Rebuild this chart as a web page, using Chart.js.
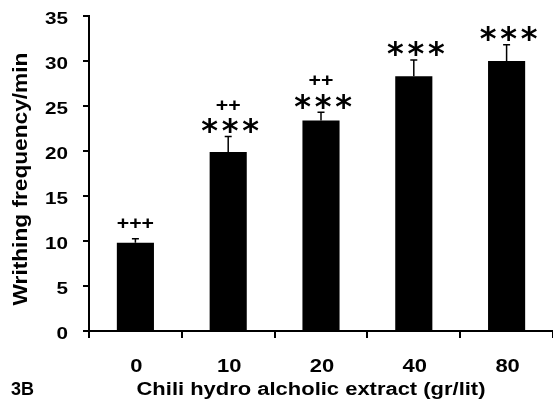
<!DOCTYPE html>
<html>
<head>
<meta charset="utf-8">
<script src="https://cdn.jsdelivr.net/npm/chart.js@4"></script>
<style>
  html, body { margin: 0; padding: 0; background: #fff; }
  canvas { display: block; }
</style>
</head>
<body>
<canvas id="myChart" width="553" height="404"></canvas>
<script>
// Data
const doses = ['0', '10', '20', '40', '80'];
const writhingMeans = [9.8, 19.9, 23.4, 28.3, 30.0];
const writhingSem = [0.45, 1.7, 0.9, 1.8, 1.8];
const plusMarks = ['+++', '++', '++', '', ''];
const starMarks = [0, 3, 3, 3, 3];
const yTickValues = [0, 5, 10, 15, 20, 25, 30, 35];

const xTitle = 'Chili hydro alcholic extract (gr/lit)';
const yTitle = 'Writhing frequency/min';
const panelLabel = '3B';

const ARIAL = '"Liberation Sans", Arial, sans-serif';

// draws text squeezed/stretched horizontally like the original figure
function stretchedText(ctx, text, x, y, font, sx, align) {
    ctx.save();
    ctx.translate(x, y);
    ctx.scale(sx, 1);
    ctx.font = font;
    ctx.textAlign = align;
    ctx.textBaseline = 'alphabetic';
    ctx.fillStyle = '#000';
    ctx.fillText(text, 0, 0);
    ctx.restore();
}

// error bars (upper only) + significance marks
const errorBarPlugin = {
    id: 'errorBars',
    afterDatasetsDraw(chart) {
        const ctx = chart.ctx;
        const meta = chart.getDatasetMeta(0);
        const yScale = chart.scales.y;
        ctx.save();
        meta.data.forEach((bar, i) => {
            const x = bar.x;
            const yTop = yScale.getPixelForValue(writhingMeans[i]);
            const yErr = yScale.getPixelForValue(writhingMeans[i] + writhingSem[i]);
            ctx.strokeStyle = '#000';
            ctx.lineWidth = 1.5;
            ctx.beginPath();
            ctx.moveTo(x, yTop);
            ctx.lineTo(x, yErr);
            ctx.moveTo(x - 3.5, yErr);
            ctx.lineTo(x + 3.5, yErr);
            ctx.stroke();

            // asterisks
            let plusCenter = yErr - 16;
            if (starMarks[i] > 0) {
                const starCenter = yErr - 14;
                const f = 32;
                ctx.font = 'bold ' + f + 'px "DejaVu Sans", sans-serif';
                ctx.textAlign = 'center';
                ctx.textBaseline = 'alphabetic';
                ctx.fillStyle = '#000';
                for (let k = 0; k < starMarks[i]; k++) {
                    const off = (k - (starMarks[i] - 1) / 2) * 20.5;
                    ctx.fillText('*', x + 2 + off, starCenter + 0.57 * f);
                }
                plusCenter = starCenter - 18;
            }
            if (plusMarks[i]) {
                stretchedText(ctx, plusMarks[i], x, plusCenter + 6,
                    'bold 19px ' + ARIAL, 1.12, 'center');
            }
        });
        ctx.restore();
    }
};

// tick labels and axis titles
const labelsPlugin = {
    id: 'figureLabels',
    afterDraw(chart) {
        const ctx = chart.ctx;
        const xScale = chart.scales.x;
        const yScale = chart.scales.y;

        yTickValues.forEach(v => {
            const y = yScale.getPixelForValue(v);
            stretchedText(ctx, String(v), 68, y + 8, 'bold 16px ' + ARIAL, 1.29, 'right');
        });

        doses.forEach((d, i) => {
            const x = xScale.getPixelForValue(i);
            stretchedText(ctx, d, x + 1, 372, 'bold 18px ' + ARIAL, 1.22, 'center');
        });

        stretchedText(ctx, xTitle, 311, 395, 'bold 18px ' + ARIAL, 1.22, 'center');
        stretchedText(ctx, panelLabel, 11, 395, 'bold 18px ' + ARIAL, 1.0, 'left');

        // rotated y axis title
        ctx.save();
        ctx.translate(27, 179);
        ctx.rotate(-Math.PI / 2);
        ctx.scale(1.08, 1);
        ctx.font = 'bold 21px ' + ARIAL;
        ctx.textAlign = 'center';
        ctx.textBaseline = 'alphabetic';
        ctx.fillStyle = '#000';
        ctx.fillText(yTitle, 0, 0);
        ctx.restore();
    }
};

const ctx = document.getElementById('myChart').getContext('2d');

const myChart = new Chart(ctx, {
    type: 'bar',
    data: {
        labels: doses,
        datasets: [{
            data: writhingMeans,
            backgroundColor: '#000',
            borderWidth: 0,
            barPercentage: 0.4,
            categoryPercentage: 1.0
        }]
    },
    options: {
        responsive: false,
        animation: false,
        layout: {
            padding: { top: 16, left: 0, right: 0, bottom: 0 }
        },
        plugins: {
            legend: { display: false },
            tooltip: { enabled: false }
        },
        scales: {
            x: {
                offset: true,
                grid: {
                    offset: true,
                    drawOnChartArea: false,
                    drawTicks: true,
                    tickLength: 7,
                    color: '#000',
                    lineWidth: 2
                },
                border: { color: '#000', width: 2 },
                ticks: { display: false },
                afterFit: scale => { scale.height = 73; }
            },
            y: {
                min: 0,
                max: 35,
                ticks: { stepSize: 5, display: false },
                grid: {
                    drawOnChartArea: false,
                    drawTicks: true,
                    tickLength: 6,
                    color: '#000',
                    lineWidth: 2
                },
                border: { color: '#000', width: 2 },
                afterFit: scale => { scale.width = 89; }
            }
        }
    },
    plugins: [errorBarPlugin, labelsPlugin]
});
</script>
</body>
</html>
